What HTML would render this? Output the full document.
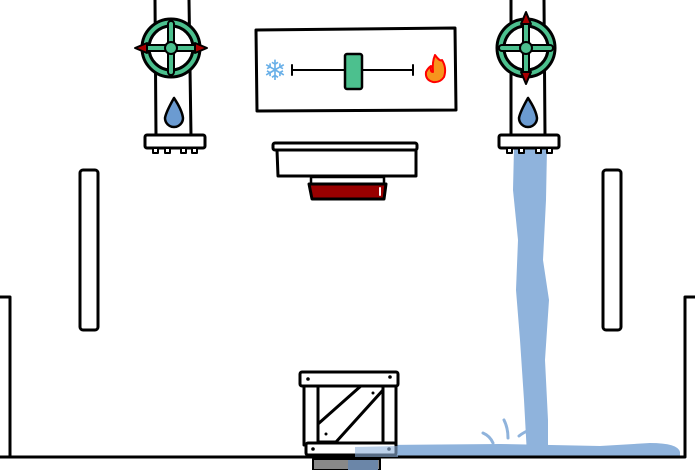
<!DOCTYPE html>
<html><head><style>body{margin:0;background:#fff}svg{display:block}</style></head><body>
<svg width="695" height="470" viewBox="0 0 695 470" xmlns="http://www.w3.org/2000/svg" stroke-linecap="round" stroke-linejoin="round">
<rect width="695" height="470" fill="#fff"/>
<path d="M514 148 L547 148 L546 200 L543 260 L549 300 L545 360 L548 420 L548 455 L527 455 L524 400 L520 340 L516 290 L518 240 L513 190 Z" fill="#8fb3dc"/>
<path d="M355 452 Q360 446 380 445 L500 444 L600 446 L650 443 Q678 443 680 452 L680 457 L355 457 Z" fill="#8fb3dc"/>
<path d="M483 433 Q490 436 493 443 M504 420 Q508 428 508 438 M519 436 Q524 432 530 430" stroke="#8fb3dc" stroke-width="3" fill="none"/>
<rect x="313" y="459" width="67" height="11" fill="#888" stroke="#000" stroke-width="2"/>
<rect x="348" y="460" width="30" height="10" fill="#6b86a8"/>
<path d="M0 297 L10 297 L10 457 L685 457 L685 297 L695 297" stroke="#000" stroke-width="3" fill="none"/>
<path d="M0 457 L10 457" stroke="#000" stroke-width="3"/>
<rect x="80" y="170" width="18" height="160" rx="3" fill="#fff" stroke="#000" stroke-width="3"/>
<rect x="603" y="170" width="18" height="160" rx="3" fill="#fff" stroke="#000" stroke-width="3"/>
<g stroke="#000" stroke-width="3">
<path d="M155 0 L156 136 M189 0 L191 136" fill="none"/>
<rect x="145" y="135" width="60" height="13" rx="2" fill="#fff"/>
<rect x="153" y="148" width="5" height="5" fill="#fff" stroke-width="2"/>
<rect x="165" y="148" width="5" height="5" fill="#fff" stroke-width="2"/>
<rect x="181" y="148" width="5" height="5" fill="#fff" stroke-width="2"/>
<rect x="192" y="148" width="5" height="5" fill="#fff" stroke-width="2"/>
<path d="M174 98 Q166 112 165 118 A9 9 0 0 0 183 118 Q182 110 174 98 Z" fill="#6b9bd1" stroke-width="2.5"/>
<circle cx="171" cy="48" r="29" fill="#4cc08e"/>
<circle cx="171" cy="48" r="22" fill="#fff"/>
<path d="M147 48 L195 48 M171 24 L171 72" stroke="#000" stroke-width="8"/>
<path d="M147 48 L195 48 M171 24 L171 72" stroke="#4cc08e" stroke-width="4"/>
<circle cx="171" cy="48" r="6" fill="#4cc08e" stroke-width="2"/>
<path d="M135 48 L147 43 L147 53 Z M207 48 L195 43 L195 53 Z" fill="#a00" stroke-width="2"/>
</g>
<g stroke="#000" stroke-width="3">
<path d="M511 0 L511 136 M544 0 L545 136" fill="none"/>
<rect x="499" y="135" width="60" height="13" rx="2" fill="#fff"/>
<rect x="507" y="148" width="5" height="5" fill="#fff" stroke-width="2"/>
<rect x="519" y="148" width="5" height="5" fill="#fff" stroke-width="2"/>
<rect x="536" y="148" width="5" height="5" fill="#fff" stroke-width="2"/>
<rect x="547" y="148" width="5" height="5" fill="#fff" stroke-width="2"/>
<path d="M528 98 Q520 112 519 118 A9 9 0 0 0 537 118 Q536 110 528 98 Z" fill="#6b9bd1" stroke-width="2.5"/>
<circle cx="526" cy="48" r="29" fill="#4cc08e"/>
<circle cx="526" cy="48" r="22" fill="#fff"/>
<path d="M502 48 L550 48 M526 24 L526 72" stroke="#000" stroke-width="8"/>
<path d="M502 48 L550 48 M526 24 L526 72" stroke="#4cc08e" stroke-width="4"/>
<circle cx="526" cy="48" r="6" fill="#4cc08e" stroke-width="2"/>
<path d="M526 12 L521 24 L531 24 Z M526 84 L521 72 L531 72 Z" fill="#a00" stroke-width="2"/>
</g>
<path d="M256 30 L455 28 L456 110 L257 111 Z" fill="#fff" stroke="#000" stroke-width="3"/>
<text x="275" y="80" font-size="28" fill="#6ab0e8" text-anchor="middle" font-family="DejaVu Sans, sans-serif">❄</text>
<path d="M292 70 L413 70 M292 65 L292 75 M413 65 L413 75" stroke="#000" stroke-width="2"/>
<rect x="345" y="54" width="17" height="35" rx="2" fill="#4cc08e" stroke="#000" stroke-width="2.5"/>
<path d="M435 55 Q440 62 442 60 Q447 68 444 77 Q440 83 433 82 Q425 80 426 72 Q428 68 431 66 Q430 72 433 72 Q432 62 435 55 Z" fill="#f7941d" stroke="#f00" stroke-width="2"/>
<rect x="311" y="177" width="73" height="8" fill="#fff" stroke="#000" stroke-width="2.5"/>
<path d="M309 184 L386 184 L384 199 L312 199 Z" fill="#990000" stroke="#000" stroke-width="3"/>
<path d="M380 188 L380 195" stroke="#fff" stroke-width="2"/>
<path d="M277 150 L416 149 L416 176 L278 176 Z" fill="#fff" stroke="#000" stroke-width="3"/>
<rect x="273" y="143" width="144" height="7" rx="2" fill="#fff" stroke="#000" stroke-width="3"/>
<g stroke="#000" stroke-width="3" fill="#fff">
<rect x="304" y="383" width="92" height="62"/>
<path d="M318 383 L318 445 M383 383 L383 445" fill="none"/>
<path d="M318 424 L362 385 L383 385 L383 390 L336 442 L318 442 Z"/>
<rect x="300" y="372" width="98" height="14" rx="2"/>
<rect x="306" y="443" width="90" height="12" rx="2"/>
</g>
<g fill="#000"><circle cx="308" cy="379" r="1.8"/><circle cx="390" cy="377" r="1.8"/><circle cx="313" cy="449" r="1.8"/><circle cx="389" cy="449" r="1.8"/><circle cx="373" cy="393" r="1.5"/><circle cx="326" cy="434" r="1.5"/></g>
<path d="M355 447 L398 446 L398 457 L355 457 Z" fill="#8fb3dc" opacity="0.6"/>
</svg>
</body></html>
